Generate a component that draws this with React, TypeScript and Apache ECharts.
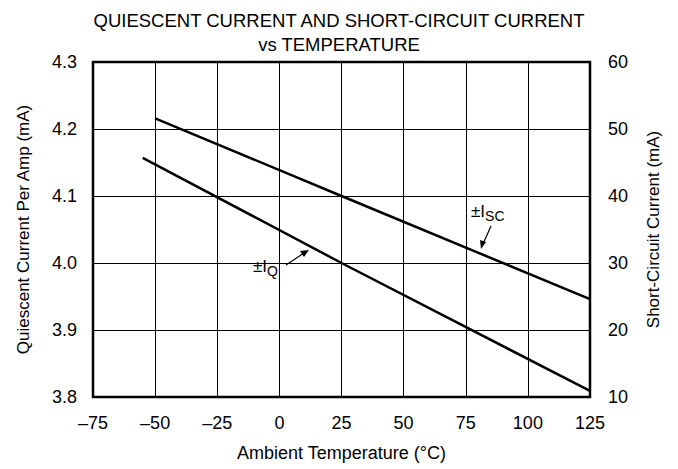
import React, { useEffect, useRef } from "react";
import * as echarts from "echarts";

const iqTemps = [-55, 25, 125];
const iqValues = [4.157, 4.0, 3.809];
const iscTemps = [-50, 25, 125];
const iscValues = [51.6, 40.0, 24.6];
const titleLines = ["QUIESCENT CURRENT AND SHORT-CIRCUIT CURRENT", "vs TEMPERATURE"];

const FONT = "Liberation Sans, Arial, Helvetica, sans-serif";

export default function App() {
  const ref = useRef<HTMLDivElement>(null);
  useEffect(() => {
    if (!ref.current) return;
    const chart = echarts.init(ref.current, null, { renderer: "svg" });
    const fmtMinus = (v: number) => String(v).replace("-", "\u2013");
    chart.setOption({
      animation: false,
      backgroundColor: "#fff",
      textStyle: { fontFamily: FONT, color: "#000" },
      title: {
        text: titleLines.join("\n"),
        left: "center",
        top: 3,
        textStyle: { fontFamily: FONT, fontSize: 18.5, fontWeight: "normal", color: "#000", lineHeight: 24 },
      },
      grid: {
        left: 93,
        right: 88,
        top: 62,
        bottom: 72,
        show: true,
        borderColor: "#000",
        borderWidth: 2.5,
      },
      xAxis: {
        type: "value",
        min: -75,
        max: 125,
        interval: 25,
        name: "Ambient Temperature (°C)",
        nameLocation: "middle",
        nameGap: 47,
        nameTextStyle: { fontFamily: FONT, fontSize: 18, color: "#000" },
        axisLine: { show: false },
        axisTick: { show: false },
        axisLabel: { fontFamily: FONT, fontSize: 18, color: "#000", margin: 17, formatter: fmtMinus },
        splitLine: { show: true, lineStyle: { color: "#000", width: 1 } },
      },
      yAxis: [
        {
          type: "value",
          min: 3.8,
          max: 4.3,
          interval: 0.1,
          name: "Quiescent Current Per Amp (mA)",
          nameLocation: "middle",
          nameGap: 61,
          nameTextStyle: { fontFamily: FONT, fontSize: 17, color: "#000" },
          axisLine: { show: false },
          axisTick: { show: false },
          axisLabel: { fontFamily: FONT, fontSize: 18, color: "#000", margin: 16, formatter: (v: number) => v.toFixed(1) },
          splitLine: { show: true, lineStyle: { color: "#000", width: 1 } },
        },
        {
          type: "value",
          min: 10,
          max: 60,
          interval: 10,
          name: "Short-Circuit Current (mA)",
          nameLocation: "middle",
          nameGap: 55,
          nameRotate: 90,
          nameTextStyle: { fontFamily: FONT, fontSize: 17, color: "#000" },
          axisLine: { show: false },
          axisTick: { show: false },
          axisLabel: { fontFamily: FONT, fontSize: 18, color: "#000", margin: 18 },
          splitLine: { show: false },
        },
      ],
      series: [
        {
          type: "line",
          name: "IQ",
          yAxisIndex: 0,
          data: iqTemps.map((t, i) => [t, iqValues[i]]),
          showSymbol: false,
          lineStyle: { color: "#000", width: 2.5 },
        },
        {
          type: "line",
          name: "ISC",
          yAxisIndex: 1,
          data: iscTemps.map((t, i) => [t, iscValues[i]]),
          showSymbol: false,
          lineStyle: { color: "#000", width: 2.5 },
        },
      ],
      graphic: [
        {
          type: "text",
          x: 471,
          y: 200,
          style: {
            text: "{a|±I}{b|SC}",
            rich: {
              a: { fontFamily: FONT, fontSize: 17, fill: "#000" },
              b: { fontFamily: FONT, fontSize: 14, fill: "#000", padding: [9, 0, 0, 0] },
            },
          },
        },
        { type: "line", shape: { x1: 491, y1: 226, x2: 483, y2: 244 }, style: { stroke: "#000", lineWidth: 1.2 } },
        { type: "polygon", shape: { points: [[481, 249], [480, 240], [486, 242]] }, style: { fill: "#000" } },
        {
          type: "text",
          x: 253,
          y: 255,
          style: {
            text: "{a|±I}{b|Q}",
            rich: {
              a: { fontFamily: FONT, fontSize: 17, fill: "#000" },
              b: { fontFamily: FONT, fontSize: 14, fill: "#000", padding: [9, 0, 0, 0] },
            },
          },
        },
        { type: "line", shape: { x1: 286, y1: 265, x2: 304, y2: 253 }, style: { stroke: "#000", lineWidth: 1.2 } },
        { type: "polygon", shape: { points: [[309, 250], [300, 251], [304, 257]] }, style: { fill: "#000" } },
      ],
    });
    return () => chart.dispose();
  }, []);
  return <div ref={ref} style={{ width: 678, height: 469, position: "absolute", left: 0, top: 0 }} />;
}
